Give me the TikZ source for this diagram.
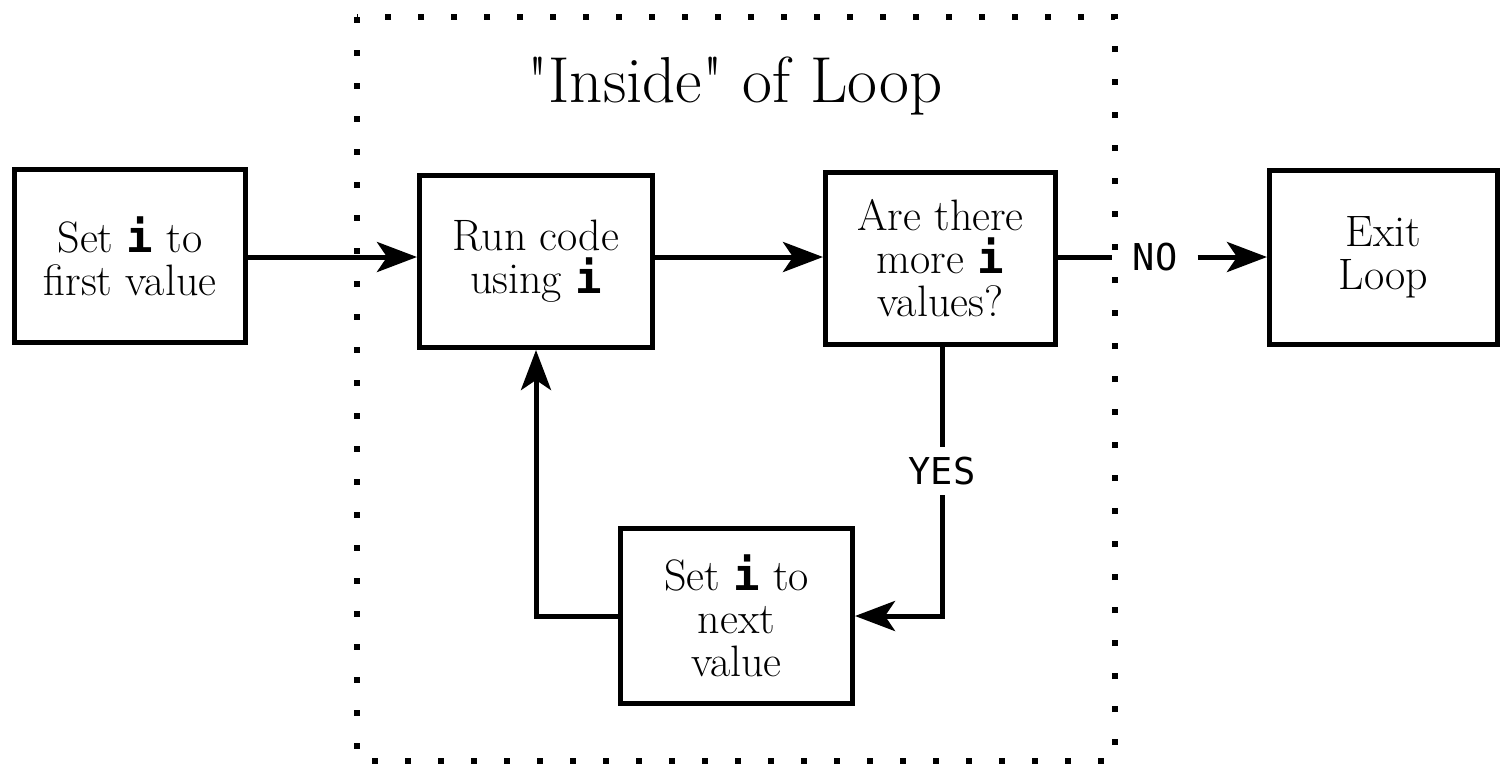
\documentclass[tikz,border=0pt]{standalone}
\usepackage{fontspec}
\usetikzlibrary{arrows.meta}
\newfontfamily\codefont{DejaVu Sans Mono}
\newcommand{\ivar}{{\codefont\bfseries i}}
\newcommand{\sq}{\XeTeXglyph\XeTeXcharglyph"22\relax}
\begin{document}
\begin{tikzpicture}[x=0.5pt,y=-0.5pt,
  box/.style={draw, line width=2.5pt, rectangle, align=center, inner sep=0pt,
    font=\fontsize{22}{21.5}\selectfont},
  conn/.style={line width=2.5pt},
  arr/.style={line width=2.5pt, -{Stealth[length=20pt,width=15pt,inset=5pt]}},
  lbl/.style={font=\codefont\fontsize{18.5}{20}\selectfont, inner sep=0pt},
  loopborder/.style={line width=3pt, dash pattern=on 3pt off 13.5pt}]
\useasboundingbox (0,0) rectangle (1504,768);
\draw[loopborder] (357,17) rectangle (1115,761);
\node[font=\fontsize{32.5}{34}\selectfont] (title) at (735,86) {\sq Inside\sq{} of Loop};
\node[box, minimum width=231pt*0.5, minimum height=173pt*0.5] (A) at (130,256) {Set \ivar{} to\\first value};
\node[box, minimum width=233pt*0.5, minimum height=172pt*0.5] (B) at (536,261.5) {Run code\\using \ivar};
\node[box, minimum width=230pt*0.5, minimum height=172pt*0.5] (C) at (940.5,258.5) {Are there\\more \ivar\\values?};
\node[box, minimum width=228pt*0.5, minimum height=174pt*0.5] (D) at (1383.5,257.5) {Exit\\Loop};
\node[box, minimum width=232pt*0.5, minimum height=175pt*0.5] (E) at (736.5,616) {Set \ivar{} to\\next\\value};
\node[lbl, inner xsep=10pt] (no) at (1155,257) {NO};
\node[lbl, inner ysep=5pt] (yes) at (942,471) {YES};
\draw[arr] (A.east |- 0,257) -- (B.west |- 0,257);
\draw[arr] (B.east |- 0,257) -- (C.west |- 0,257);
\draw[conn] (C.east |- no.west) -- (no.west);
\draw[arr] (no.east) -- (D.west |- no.east);
\draw[conn] (C.south -| yes.north) -- (yes.north);
\draw[arr] (yes.south) |- (E.east);
\draw[arr] (E.west) -| (B.south);
\end{tikzpicture}
\end{document}
